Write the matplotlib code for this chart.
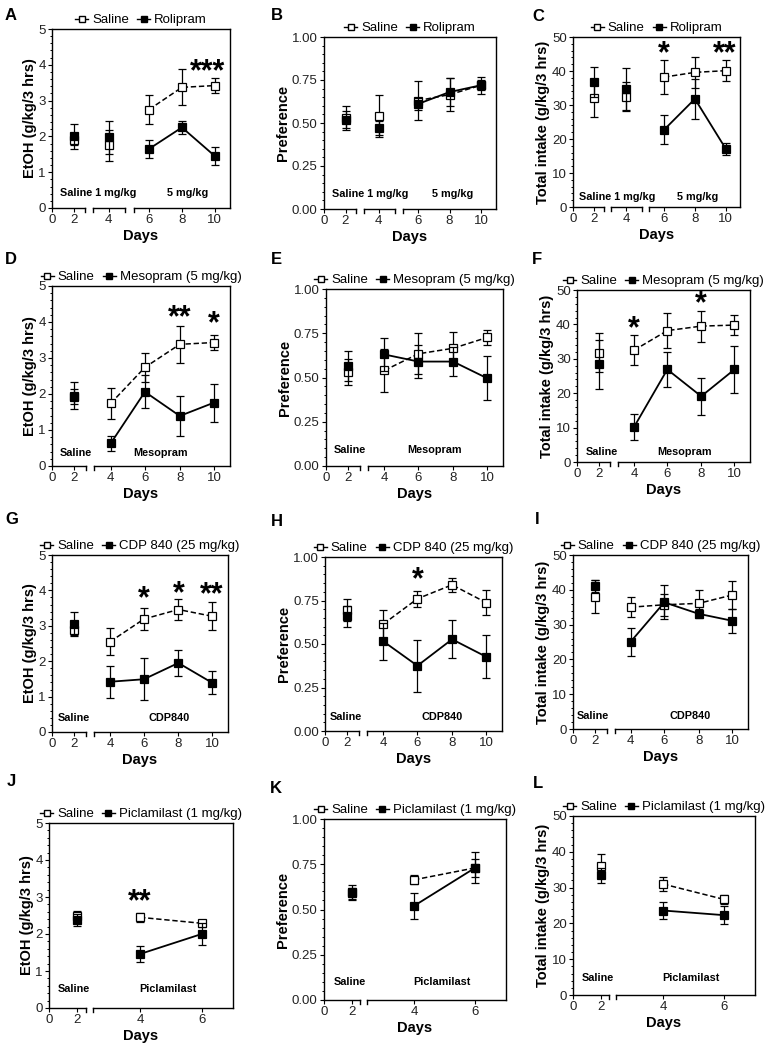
import numpy as np
import matplotlib
matplotlib.use('Agg')
import matplotlib.pyplot as plt
from matplotlib.lines import Line2D
from matplotlib.ticker import MultipleLocator, AutoMinorLocator, FormatStrFormatter

plt.rcParams['font.family'] = ['Liberation Sans', 'DejaVu Sans']

# ---- data ----
days_long = [2, 4, 6, 8, 10]
days_short = [2, 4, 6]

# Rolipram
a_sal = [1.9, 1.75, 2.75, 3.37, 3.42]
a_sal_err = [0.15, 0.43, 0.4, 0.5, 0.22]
a_drug = [2.0, 1.97, 1.65, 2.25, 1.45]
a_drug_err = [0.35, 0.47, 0.25, 0.19, 0.25]

b_sal = [0.53, 0.54, 0.63, 0.665, 0.72]
b_sal_err = [0.07, 0.12, 0.115, 0.095, 0.05]
b_drug = [0.52, 0.47, 0.61, 0.68, 0.72]
b_drug_err = [0.05, 0.04, 0.035, 0.08, 0.03]

c_sal = [32.0, 32.5, 38.2, 39.6, 40.1]
c_sal_err = [5.5, 4.3, 4.9, 4.5, 3.0]
c_drug = [36.7, 34.7, 22.7, 31.8, 17.1]
c_drug_err = [4.4, 6.1, 4.3, 5.8, 1.8]

# Mesopram
d_sal = [1.95, 1.74, 2.74, 3.38, 3.43]
d_sal_err = [0.38, 0.44, 0.41, 0.51, 0.21]
d_drug = [1.93, 0.63, 2.06, 1.39, 1.76]
d_drug_err = [0.2, 0.2, 0.46, 0.55, 0.53]

e_sal = [0.53, 0.54, 0.634, 0.665, 0.726]
e_sal_err = [0.075, 0.12, 0.117, 0.09, 0.043]
e_drug = [0.565, 0.63, 0.59, 0.59, 0.496]
e_drug_err = [0.085, 0.095, 0.095, 0.08, 0.125]

f_sal = [31.8, 32.5, 38.2, 39.5, 39.8]
f_sal_err = [5.6, 4.4, 5.0, 4.5, 3.0]
f_drug = [28.4, 10.2, 26.9, 19.1, 26.9]
f_drug_err = [7.2, 3.7, 5.1, 5.4, 6.8]

# CDP 840
g_sal = [2.88, 2.55, 3.19, 3.46, 3.27]
g_sal_err = [0.15, 0.38, 0.32, 0.29, 0.4]
g_drug = [3.05, 1.42, 1.49, 1.95, 1.39]
g_drug_err = [0.35, 0.45, 0.6, 0.37, 0.32]

h_sal = [0.695, 0.615, 0.76, 0.84, 0.738]
h_sal_err = [0.065, 0.08, 0.045, 0.04, 0.07]
h_drug = [0.66, 0.515, 0.375, 0.527, 0.427]
h_drug_err = [0.06, 0.105, 0.15, 0.11, 0.125]

i_sal = [38.0, 35.0, 35.7, 36.1, 38.5]
i_sal_err = [4.7, 2.9, 3.2, 3.8, 4.1]
i_drug = [41.1, 25.1, 36.4, 33.1, 31.1]
i_drug_err = [1.7, 4.0, 4.9, 1.3, 3.4]

# Piclamilast
j_sal = [2.5, 2.45, 2.29]
j_sal_err = [0.13, 0.13, 0.09]
j_drug = [2.38, 1.46, 2.0]
j_drug_err = [0.17, 0.21, 0.3]

k_sal = [0.595, 0.664, 0.73]
k_sal_err = [0.04, 0.024, 0.05]
k_drug = [0.59, 0.52, 0.73]
k_drug_err = [0.03, 0.072, 0.085]

l_sal = [36.0, 31.0, 26.7]
l_sal_err = [3.3, 2.0, 1.3]
l_drug = [33.4, 23.6, 22.3]
l_drug_err = [2.2, 2.3, 2.6]

# ---- broken x axis layouts ----
XSCALES = {
    'r1': ([0, 2, 4, 6, 8, 10, 11], [0, .125, .318, .545, .73, .915, 1.0],
           [(0, .187), (.23, .411), (.458, 1.0)], 2),
    'r2': ([0, 2, 4, 6, 8, 10, 11], [0, .125, .33, .522, .718, .91, 1.0],
           [(0, .192), (.238, 1.0)], 1),
    'r4': ([0, 2, 4, 6, 7], [0, .152, .495, .83, 1.0],
           [(0, .2), (.237, 1.0)], 1),
}

W, H = 767, 1046
fig = plt.figure(figsize=(W / 100, H / 100), dpi=100)


def rect(l, t, r, b):
    return [l / W, 1 - b / H, (r - l) / W, (b - t) / H]


def setup_x(ax, kind):
    kd, kf, segs, _ = XSCALES[kind]
    fwd = lambda x: np.interp(x, kd, kf)
    inv = lambda y: np.interp(y, kf, kd)
    ax.set_xscale('function', functions=(fwd, inv))
    ax.set_xlim(kd[0], kd[-1])
    ax.set_xticks(list(range(0, int(kd[-1]) + 1, 2)))
    ax.xaxis.set_minor_locator(matplotlib.ticker.NullLocator())
    ax.spines['bottom'].set_visible(False)
    for s0, s1 in segs:
        ax.plot([s0, s1], [0, 0], color='k', lw=1, transform=ax.transAxes, clip_on=False)
        for s in (s0, s1):
            if 0 < s < 1:
                ax.plot([s, s], [0, -0.022], color='k', lw=1, transform=ax.transAxes, clip_on=False)


ETOH = 'EtOH (g/kg/3 hrs)'
PREF = 'Preference'
TOT = 'Total intake (g/kg/3 hrs)'

panels = [
    ('A', (52, 29, 230, 208), 'r1', ETOH, 5, 1, '%d', days_long, a_sal, a_sal_err, a_drug, a_drug_err, 'Rolipram',
     [(0.7, 0.42, 'Saline 1 mg/kg', 'left'), (8.35, 0.42, '5 mg/kg', 'center')],
     [(9.55, 3.8, '***')]),
    ('B', (324, 37, 496, 209), 'r1', PREF, 1.0, 0.25, '%.2f', days_long, b_sal, b_sal_err, b_drug, b_drug_err, 'Rolipram',
     [(0.7, 0.087, 'Saline 1 mg/kg', 'left'), (8.2, 0.087, '5 mg/kg', 'center')],
     []),
    ('C', (573, 37, 740, 207), 'r1', TOT, 50, 10, '%d', days_long, c_sal, c_sal_err, c_drug, c_drug_err, 'Rolipram',
     [(0.55, 2.9, 'Saline 1 mg/kg', 'left'), (8.15, 2.9, '5 mg/kg', 'center')],
     [(6, 45.0, '*'), (9.9, 45.0, '**')]),
    ('D', (52, 286, 230, 466), 'r2', ETOH, 5, 1, '%d', days_long, d_sal, d_sal_err, d_drug, d_drug_err, 'Mesopram (5 mg/kg)',
     [(2.1, 0.35, 'Saline', 'center'), (6.9, 0.35, 'Mesopram', 'center')],
     [(8, 4.1, '**'), (10, 3.93, '*')]),
    ('E', (326, 289, 503, 466), 'r2', PREF, 1.0, 0.25, '%.2f', days_long, e_sal, e_sal_err, e_drug, e_drug_err, 'Mesopram (5 mg/kg)',
     [(2.1, 0.09, 'Saline', 'center'), (6.95, 0.09, 'Mesopram', 'center')],
     []),
    ('F', (577, 290, 750, 462), 'r2', TOT, 50, 10, '%d', days_long, f_sal, f_sal_err, f_drug, f_drug_err, 'Mesopram (5 mg/kg)',
     [(2.2, 2.9, 'Saline', 'center'), (7.0, 2.9, 'Mesopram', 'center')],
     [(4, 38.5, '*'), (8, 46.0, '*')]),
    ('G', (52, 555, 228, 732), 'r2', ETOH, 5, 1, '%d', days_long, g_sal, g_sal_err, g_drug, g_drug_err, 'CDP 840 (25 mg/kg)',
     [(2.0, 0.4, 'Saline', 'center'), (7.45, 0.4, 'CDP840', 'center')],
     [(6, 3.75, '*'), (8, 3.9, '*'), (9.95, 3.85, '**')]),
    ('H', (325, 557, 502, 731), 'r2', PREF, 1.0, 0.25, '%.2f', days_long, h_sal, h_sal_err, h_drug, h_drug_err, 'CDP 840 (25 mg/kg)',
     [(1.9, 0.08, 'Saline', 'center'), (7.4, 0.08, 'CDP840', 'center')],
     [(6, 0.865, '*')]),
    ('I', (573, 555, 748, 729), 'r2', TOT, 50, 10, '%d', days_long, i_sal, i_sal_err, i_drug, i_drug_err, 'CDP 840 (25 mg/kg)',
     [(1.8, 3.8, 'Saline', 'center'), (7.5, 3.8, 'CDP840', 'center')],
     []),
    ('J', (49, 823, 233, 1008), 'r4', ETOH, 5, 1, '%d', days_short, j_sal, j_sal_err, j_drug, j_drug_err, 'Piclamilast (1 mg/kg)',
     [(1.8, 0.5, 'Saline', 'center'), (4.9, 0.5, 'Piclamilast', 'center')],
     [(4, 2.87, '**')]),
    ('K', (324, 819, 506, 1000), 'r4', PREF, 1.0, 0.25, '%.2f', days_short, k_sal, k_sal_err, k_drug, k_drug_err, 'Piclamilast (1 mg/kg)',
     [(1.85, 0.098, 'Saline', 'center'), (4.9, 0.098, 'Piclamilast', 'center')],
     []),
    ('L', (573, 816, 755, 995), 'r4', TOT, 50, 10, '%d', days_short, l_sal, l_sal_err, l_drug, l_drug_err, 'Piclamilast (1 mg/kg)',
     [(1.8, 4.65, 'Saline', 'center'), (4.9, 4.65, 'Piclamilast', 'center')],
     []),
]

letter_pos = {'A': (5, 8), 'B': (271, 8), 'C': (532, 9), 'D': (5, 252), 'E': (271, 252), 'F': (532, 252),
              'G': (5, 512), 'H': (271, 514), 'I': (535, 512), 'J': (7, 774), 'K': (270, 781), 'L': (533, 776)}

for (letter, box, kind, ylab, ymax, ystep, yfmt, days, sal, sal_err, drug, drug_err, dname, labels, stars) in panels:
    ax = fig.add_axes(rect(*box))
    setup_x(ax, kind)
    c = XSCALES[kind][3]

    ax.errorbar(days, sal, yerr=sal_err, fmt='s', ms=5.5, mfc='white', mec='k', mew=0.9,
                ecolor='k', elinewidth=0.9, capsize=3, capthick=0.9, zorder=3)
    ax.plot(days[c:], sal[c:], color='k', lw=1.1, ls=(0, (3.5, 1.8)), zorder=2)
    ax.errorbar(days, drug, yerr=drug_err, fmt='s', ms=5.5, mfc='k', mec='k', mew=0.9,
                ecolor='k', elinewidth=0.9, capsize=3, capthick=0.9, zorder=4)
    ax.plot(days[c:], drug[c:], color='k', lw=1.3, zorder=2)

    ax.set_ylim(0, ymax)
    ax.yaxis.set_major_locator(MultipleLocator(ystep))
    ax.yaxis.set_minor_locator(AutoMinorLocator(5))
    ax.yaxis.set_major_formatter(FormatStrFormatter(yfmt))
    ax.tick_params(axis='both', which='major', direction='out', length=3, width=0.8, labelsize=9.5, pad=1.5,
                   labelcolor='#222222')
    ax.tick_params(axis='y', which='minor', direction='out', length=1.8, width=0.7)
    for s in ('left', 'top', 'right'):
        ax.spines[s].set_linewidth(1)

    ax.set_xlabel('Days', fontsize=10.5, fontweight='bold', labelpad=2)
    ax.set_ylabel(ylab, fontsize=10.5, fontweight='bold', labelpad=1)

    for (x, y, t, ha) in labels:
        ax.text(x, y, t, ha=ha, va='center', fontsize=7.8, fontweight='bold')
    for (x, y, t) in stars:
        ax.text(x, y, t, ha='center', va='center', fontsize=22, fontweight='bold')

    handles = [Line2D([0], [0], marker='s', ms=5, mfc='white', mec='k', color='k', lw=1),
               Line2D([0], [0], marker='s', ms=5, mfc='k', mec='k', color='k', lw=1)]
    ax.legend(handles, ['Saline', dname], loc='lower center', bbox_to_anchor=(0.5, 1.0), ncol=2,
              frameon=False, fontsize=9.5, handlelength=1.0, handletextpad=0.3, columnspacing=0.6,
              borderaxespad=0.1, borderpad=0.1)

    lx, ly = letter_pos[letter]
    fig.text(lx / W, 1 - ly / H, letter, ha='left', va='top', fontsize=12, fontweight='bold')

fig.savefig('out.png', dpi=100)
